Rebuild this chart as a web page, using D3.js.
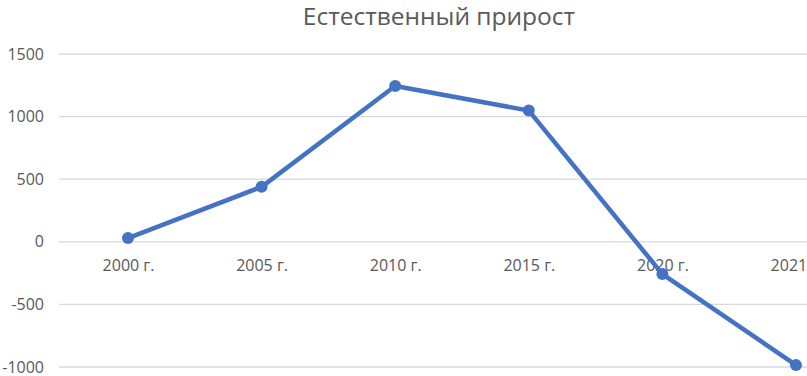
<!DOCTYPE html>
<html>
<head>
<meta charset="utf-8">
<script src="https://cdn.jsdelivr.net/npm/d3@7"></script>
<style>
  body { margin: 0; background: #fff; }
  svg { display: block; }
  .axis text { font-family: "Open Sans", sans-serif; fill: #595959; }
</style>
</head>
<body>
<div id="chart"></div>
<script>
// Variables
var width = 807;
var height = 376;

// data
var years = ['2000 г.', '2005 г.', '2010 г.', '2015 г.', '2020 г.', '2021 г.'];
var growth = [30, 439, 1245, 1048, -258, -985];
var yTicks = [-1000, -500, 0, 500, 1000, 1500];
var title = 'Естественный прирост';

var svg = d3.select('#chart').append('svg')
    .attr('width', width)
    .attr('height', height);

// plot area is wider than the window, the last category gets cut off like in the picture
var x = d3.scalePoint()
    .domain(years)
    .range([128, 796]);

var y = d3.scaleLinear()
    .domain([-1000, 1500])
    .range([367, 54]);

// gridlines
svg.append('g')
    .selectAll('line')
    .data(yTicks)
    .enter().append('line')
    .attr('x1', 59)
    .attr('x2', width)
    .attr('y1', function(d) { return y(d); })
    .attr('y2', function(d) { return y(d); })
    .style('stroke', '#d9d9d9')
    .style('stroke-width', 1.3);

// y labels, plain hyphen and no thousands separator
var yAxis = svg.append('g')
    .attr('class', 'axis')
    .attr('transform', 'translate(44,0)')
    .call(d3.axisLeft(y).tickValues(yTicks).tickSize(0).tickPadding(0)
      .tickFormat(function(d) { return String(d); }));
yAxis.select('.domain').remove();
yAxis.selectAll('text').style('font-size', '16px');

// x labels sit under the zero line
var xAxis = svg.append('g')
    .attr('class', 'axis')
    .attr('transform', 'translate(0,' + y(0) + ')')
    .call(d3.axisBottom(x).tickSize(0).tickPadding(18));
xAxis.select('.domain').remove();
xAxis.selectAll('text').style('font-size', '16px');

// the line
var line = d3.line()
    .x(function(d, i) { return x(years[i]); })
    .y(function(d) { return y(d); });

svg.append('path')
    .datum(growth)
    .attr('d', line)
    .style('fill', 'none')
    .style('stroke', '#4472C4')
    .style('stroke-width', 4.5)
    .style('stroke-linejoin', 'round');

svg.append('g')
    .selectAll('circle')
    .data(growth)
    .enter().append('circle')
    .attr('cx', function(d, i) { return x(years[i]); })
    .attr('cy', function(d) { return y(d); })
    .attr('r', 6)
    .style('fill', '#4472C4');

// title
svg.append('text')
    .attr('x', 439)
    .attr('y', 25)
    .attr('text-anchor', 'middle')
    .style('font-family', '"Open Sans", sans-serif')
    .style('font-size', '24.5px')
    .style('fill', '#595959')
    .text(title);
</script>
</body>
</html>
